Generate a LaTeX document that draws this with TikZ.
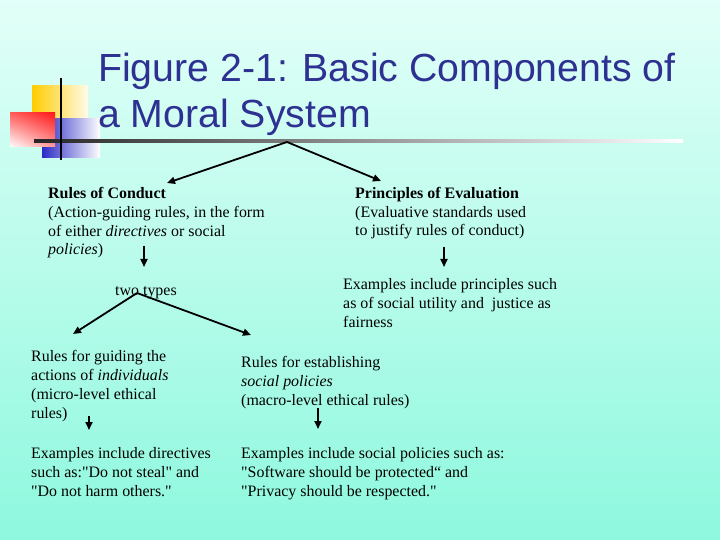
\documentclass[tikz,border=0pt]{standalone}
\usepackage{fontspec}
\setmainfont{Liberation Serif}
\newfontfamily\titlefont{Liberation Sans}
\usetikzlibrary{arrows.meta,shadings}
\definecolor{msnavy}{HTML}{2E3192}
\definecolor{mstop}{HTML}{E2FFF8}
\definecolor{msbottom}{HTML}{8EF8DE}
\definecolor{msyellow}{HTML}{FFCC00}
\definecolor{msred}{HTML}{FF1A1A}
\definecolor{msblue}{HTML}{2B2BC8}
\newcommand{\qq}{\textquotedbl}

\begin{document}
\begin{tikzpicture}[x=1bp,y=-1bp,
    txt/.style={anchor=base west,inner sep=0pt,align=left,font=\fontsize{16}{19}\selectfont},
    arr/.style={-{Triangle[length=8bp,width=7bp]},line width=1.8bp}]
  \shade[top color=mstop,bottom color=msbottom] (0,0) rectangle (720,540);
  \useasboundingbox (0,0) rectangle (720,540);
  % logo
  \shade[left color=msyellow,middle color=msyellow!60!white,right color=msyellow!8!white] (32,86) rectangle (88,120);
  \shade[left color=msblue,middle color=msblue!80!white,right color=white] (42,119) rectangle (100,158);
  \shade[upper left=msred!70!white,upper right=msred,lower left=white,lower right=msred!45!white] (10,113) rectangle (55,147);
  \shade[left color=black!85,middle color=black!45,right color=white] (34,139.5) rectangle (683,142.5);
  \draw[line width=2.5bp] (61,78) -- (61,160);
  \node[anchor=base west,inner sep=0pt,align=left,text=msnavy,
    font=\titlefont\fontsize{39.4}{47}\selectfont] (title) at (98,128)
    {Figure 2-1: Basic Components of\\a Moral System};
  % texts (anchored at the baseline of their last line)
  \node[txt] (conduct) at (48,255) {\textbf{Rules of Conduct}\\(Action-guiding rules, in the form\\of either \textit{directives} or social\\\textit{policies})};
  \node[txt] (evaluation) at (355,236) {\textbf{Principles of Evaluation}\\(Evaluative standards used\\to justify rules of conduct)};
  \node[txt] (twotypes) at (115,295) {two types};
  \node[txt] (principles) at (343,327) {Examples include principles such\\as of social utility and\ \ justice as\\fairness};
  \node[txt] (individual) at (31,418) {Rules for guiding the\\actions of \textit{individuals}\\(micro-level ethical\\rules)};
  \node[txt] (directives) at (31,496) {Examples include directives\\such as:\qq Do not steal\qq{} and\\\qq Do not harm others.\qq};
  \node[txt] (social) at (241,405) {Rules for establishing\\\textit{social policies}\\(macro-level ethical rules)};
  \node[txt] (policies) at (241,496) {Examples include social policies such as:\\\qq Software should be protected“ and\\\qq Privacy should be respected.\qq};
  % arrows
  \coordinate (apex) at (287,142);
  \coordinate (toconduct) at (167,183);
  \coordinate (toevaluation) at (381,181);
  \coordinate (conductout) at (144,246);
  \coordinate (conductin) at (144,267);
  \coordinate (evalout) at (444,247);
  \coordinate (evalin) at (444,267);
  \coordinate (typesapex) at (137,293);
  \coordinate (toindividual) at (73,334);
  \coordinate (tosocial) at (251,335);
  \coordinate (indout) at (89,416);
  \coordinate (indin) at (89,430);
  \coordinate (socout) at (318,408);
  \coordinate (socin) at (318,429);
  \draw[arr] (apex) -- (toconduct);
  \draw[arr] (apex) -- (toevaluation);
  \draw[arr] (conductout) -- (conductin);
  \draw[arr] (evalout) -- (evalin);
  \draw[arr] (typesapex) -- (toindividual);
  \draw[arr] (typesapex) -- (tosocial);
  \draw[arr] (indout) -- (indin);
  \draw[arr] (socout) -- (socin);
\end{tikzpicture}
\end{document}
